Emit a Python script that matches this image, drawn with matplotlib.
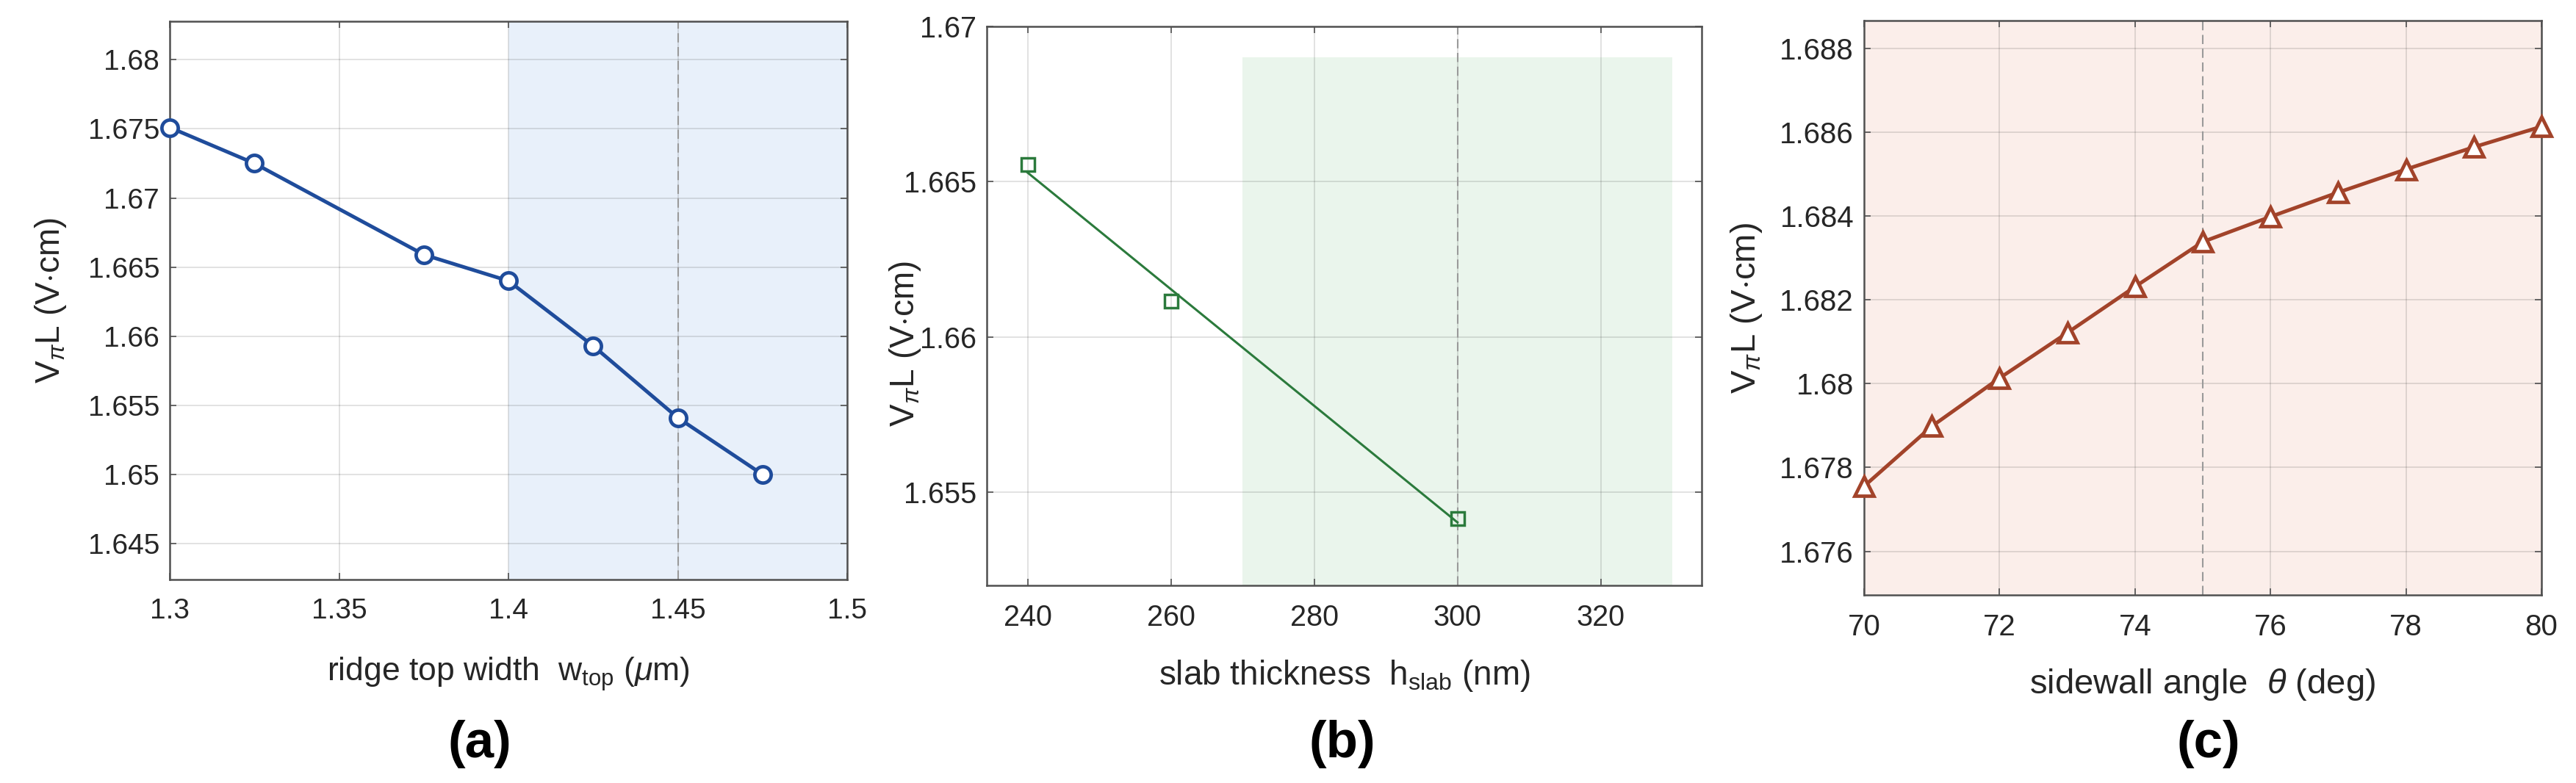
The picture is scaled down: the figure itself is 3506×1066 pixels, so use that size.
import numpy as np
import matplotlib
import matplotlib.pyplot as plt
from matplotlib.ticker import FuncFormatter

matplotlib.use('Agg')

plt.rcParams['font.family'] = ['Liberation Sans', 'DejaVu Sans']
plt.rcParams['mathtext.fontset'] = 'custom'
plt.rcParams['mathtext.rm'] = 'Liberation Sans'
plt.rcParams['mathtext.it'] = 'Liberation Sans:italic'
plt.rcParams['mathtext.bf'] = 'Liberation Sans:bold'

# (a) ridge top width sweep
w_top = [1.3, 1.325, 1.375, 1.4, 1.425, 1.45, 1.475]
vpil_w = [1.6751, 1.6725, 1.6659, 1.6640, 1.6593, 1.6541, 1.6500]
w_xticks = [1.3, 1.35, 1.4, 1.45, 1.5]
w_yticks = [1.645, 1.65, 1.655, 1.66, 1.665, 1.67, 1.675, 1.68]

# (b) slab thickness sweep
h_slab = [240, 260, 300]
vpil_h = [1.66555, 1.66115, 1.65416]
h_xticks = [240, 260, 280, 300, 320]
h_yticks = [1.655, 1.66, 1.665, 1.67]

# (c) sidewall angle sweep
theta = [70, 71, 72, 73, 74, 75, 76, 77, 78, 79, 80]
vpil_theta = [1.67755, 1.67898, 1.68013, 1.68121, 1.68231, 1.68338,
              1.68398, 1.68456, 1.68511, 1.68564, 1.68613]
t_xticks = [70, 72, 74, 76, 78, 80]
t_yticks = [1.676, 1.678, 1.68, 1.682, 1.684, 1.686, 1.688]

YLABEL = r'$\mathrm{V}_{\pi}\mathrm{L}$ (V$\cdot$cm)'
TEXT_C = '#262626'
SPINE_C = '#505050'
DASH_C = '#9a9a9a'


def fmt(v, pos):
    return '%g' % v


def style_axes(ax, xticks, yticks, tick_size):
    ax.set_xticks(xticks)
    ax.set_yticks(yticks)
    ax.xaxis.set_major_formatter(FuncFormatter(fmt))
    ax.yaxis.set_major_formatter(FuncFormatter(fmt))
    ax.set_axisbelow(True)
    ax.grid(True, color='#262626', alpha=0.15, linewidth=1.3)
    ax.tick_params(direction='in', top=True, right=True, length=6.5,
                   width=1.2, color=SPINE_C, labelsize=tick_size,
                   labelcolor=TEXT_C, pad=18)
    ax.tick_params(axis='y', pad=10)
    for s in ax.spines.values():
        s.set_color(SPINE_C)
        s.set_linewidth(1.8)


fig = plt.figure(figsize=(35.06, 10.66), dpi=100)

# ---- panel (a)
ax1 = fig.add_axes([0.0659, 0.2598, 0.263, 0.7134])
ax1.axvspan(1.4, 1.5, color='#e8f0fa', zorder=0.1, linewidth=0)
ax1.axvline(1.45, color=DASH_C, linestyle=(0, (6, 3)), linewidth=1.5, zorder=1.5)
ax1.plot(w_top, vpil_w, '-o', color='#1f4c9b', linewidth=3.6, markersize=16,
         markeredgewidth=3.4, markerfacecolor='white', zorder=3, clip_on=False)
ax1.set_xlim(1.3, 1.5)
ax1.set_ylim(1.6424, 1.6828)
style_axes(ax1, w_xticks, w_yticks, 28)
ax1.set_xlabel(r'ridge top width  $\mathrm{w}_{\mathrm{top}}$ ($\mu$m)',
               fontsize=32, color=TEXT_C)
ax1.xaxis.set_label_coords(0.5, -0.135)
ax1.set_ylabel(YLABEL, fontsize=33, color=TEXT_C)
ax1.yaxis.set_label_coords(-0.15, 0.5)
fig.text(0.1863, 0.05, '(a)', fontsize=51, fontweight='bold', ha='center', va='center')

# ---- panel (b)
ax2 = fig.add_axes([0.3831, 0.2523, 0.2775, 0.7139])
ax2.fill_between([270, 330], 1.652, 1.669, color='#eaf5ec', zorder=0.1, linewidth=0)
ax2.axvline(300, color=DASH_C, linestyle=(0, (6, 3)), linewidth=1.5, zorder=1.5)
# straight line is a linear fit through the three points
fit = np.polyfit(h_slab, vpil_h, 1)
fit_x = np.array([h_slab[0], h_slab[-1]])
ax2.plot(fit_x, np.polyval(fit, fit_x), '-', color='#2b7a3c', linewidth=2.2, zorder=2)
ax2.plot(h_slab, vpil_h, 's', color='#2b7a3c', markersize=13.5,
         markeredgewidth=2.5, markerfacecolor='none', zorder=3)
ax2.set_xlim(234.3, 334.1)
ax2.set_ylim(1.652, 1.670)
style_axes(ax2, h_xticks, h_yticks, 28.5)
ax2.set_xlabel(r'slab thickness  $\mathrm{h}_{\mathrm{slab}}$ (nm)',
               fontsize=33, color=TEXT_C)
ax2.xaxis.set_label_coords(0.5, -0.13)
ax2.set_ylabel(YLABEL, fontsize=33, color=TEXT_C)
ax2.yaxis.set_label_coords(-0.09, 0.432)
fig.text(0.5211, 0.05, '(b)', fontsize=51, fontweight='bold', ha='center', va='center')

# ---- panel (c)
ax3 = fig.add_axes([0.7236, 0.2402, 0.263, 0.7331])
ax3.set_facecolor('#fbeeea')
ax3.axvline(75, color=DASH_C, linestyle=(0, (6, 3)), linewidth=1.5, zorder=1.5)
ax3.plot(theta, vpil_theta, '-^', color='#a2432a', linewidth=3.6, markersize=19,
         markeredgewidth=3.4, markerfacecolor='white', zorder=3, clip_on=False)
ax3.set_xlim(70, 80)
ax3.set_ylim(1.67496, 1.68865)
style_axes(ax3, t_xticks, t_yticks, 29)
ax3.set_xlabel(r'sidewall angle  $\theta$ (deg)', fontsize=34, color=TEXT_C)
ax3.xaxis.set_label_coords(0.5, -0.125)
ax3.set_ylabel(YLABEL, fontsize=34, color=TEXT_C)
ax3.yaxis.set_label_coords(-0.147, 0.5)
fig.text(0.8574, 0.05, '(c)', fontsize=51, fontweight='bold', ha='center', va='center')

fig.savefig('out.png', dpi=100)
